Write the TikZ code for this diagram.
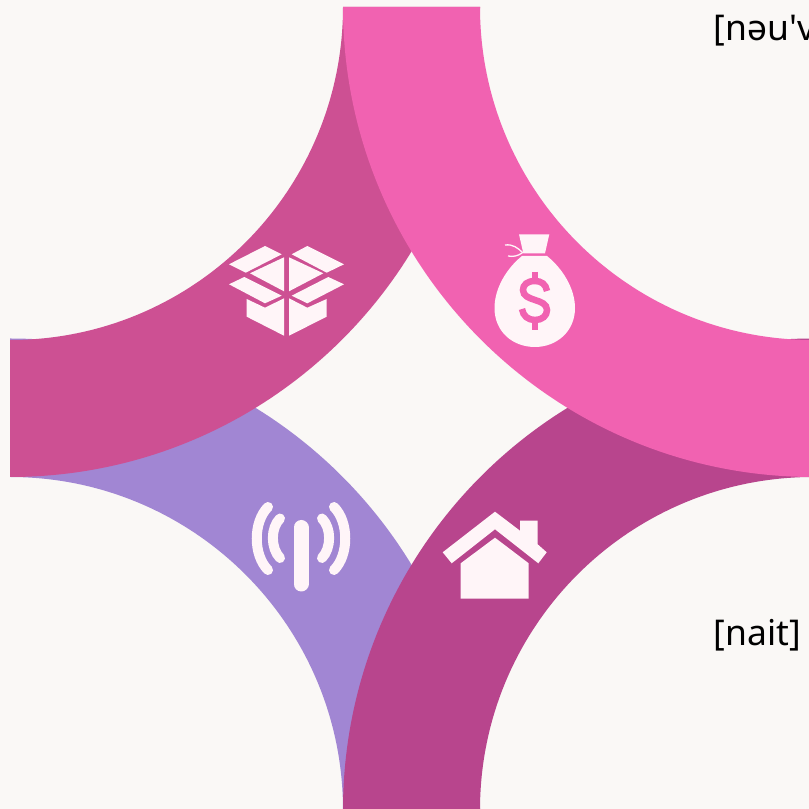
\documentclass[tikz,border=0pt]{standalone}
\usepackage{fontspec}
\newfontfamily\wordfont{Noto Sans}
\definecolor{paper}{HTML}{FAF8F6}
\definecolor{ringtl}{HTML}{CD5093}
\definecolor{ringtr}{HTML}{F162B1}
\definecolor{ringbl}{HTML}{A186D3}
\definecolor{ringbr}{HTML}{B8458D}
\definecolor{iconfill}{HTML}{FFF5F8}
\tikzset{
    icon/.style={fill=iconfill},
    iconline/.style={draw=iconfill, line width=10pt, line cap=round},
    word/.style={anchor=base west, inner sep=0pt, font=\wordfont\fontsize{35.5}{42}\selectfont}
}

\begin{document}
\begin{tikzpicture}[x=1pt,y=1pt]
    \useasboundingbox (0,0) rectangle (809,809);
    \clip (0,0) rectangle (809,809);
    \fill[paper] (0,0) rectangle (809,809);
    % rings, lowest first
    \fill[ringbl] (10,332) arc[start angle=90, end angle=0, radius=333] -- (480,-1) arc[start angle=0, end angle=90, x radius=470, y radius=471.5] -- cycle;
    \fill[ringtl] (343,802) arc[start angle=0, end angle=-90, radius=333] -- (10,332) arc[start angle=-90, end angle=0, radius=470] -- cycle;
    \fill[ringbr] (480,-1) arc[start angle=180, end angle=90, radius=333] -- (813,470.5) arc[start angle=90, end angle=180, x radius=470, y radius=471.5] -- cycle;
    \fill[ringtr] (480,802) arc[start angle=180, end angle=270, radius=333] -- (813,332) arc[start angle=270, end angle=180, radius=470] -- cycle;
    % words
    \node[word] (wordnov) at (713.5,768) {[nəu'v};
    \node[word] (wordnight) at (713.5,163) {[nait]};
    % icons, y runs downwards in here
    \begin{scope}[shift={(0,809)},yscale=-1]
        % box
        \fill[icon] (229,264.3) -- (265,246) -- (281.7,254.3) -- (245.7,272.7) -- cycle;
        \fill[icon] (291.7,254.3) -- (307.3,246) -- (344,264.3) -- (326.7,272.7) -- cycle;
        \fill[icon] (250,273.3) -- (284,257.3) -- (284,291.3) -- cycle;
        \fill[icon] (289,257.3) -- (323.3,273.3) -- (289,291.3) -- cycle;
        \fill[icon] (229,284.3) -- (244.3,277) -- (281.7,295.7) -- (265,303.3) -- cycle;
        \fill[icon] (291.7,295.7) -- (328.3,277) -- (344,284.3) -- (307.3,303.3) -- cycle;
        \fill[icon] (246.7,299) -- (265,307.7) -- (284,298.3) -- (284,335.7) -- (246.7,316.7) -- cycle;
        \fill[icon] (289,298.3) -- (307.3,307.7) -- (326.7,299) -- (326.7,316.7) -- (289,335.7) -- cycle;
        % money bag
        \fill[icon] (519,234.3) -- (549.3,234.3) -- (545,253.3) -- (523.3,253.3) -- cycle;
        \fill[icon] (522,256) -- (547,256) .. controls (562,268) and (575,288) .. (575,308) .. controls (575,332) and (556,347) .. (535,347) .. controls (513,347) and (494.5,332) .. (494.5,308) .. controls (494.5,288) and (507,268) .. (522,256) -- cycle;
        \draw[draw=iconfill, line width=1.3pt] (505,245) .. controls (513,244) and (518,248) .. (523,253);
        \draw[draw=iconfill, line width=1.3pt] (508,256) .. controls (513,257) and (518,256) .. (522,253);
        \draw[draw=ringtr, line width=6.5pt] (547,291) .. controls (546,284) and (541,281) .. (535,281) .. controls (527,281) and (523,285) .. (523,290) .. controls (523,296) and (529,298) .. (535,300) .. controls (541,302) and (547,304) .. (547,310) .. controls (547,316) and (542,320) .. (535,320) .. controls (528,320) and (523,316) .. (522,309);
        \draw[draw=ringtr, line width=6.5pt] (535,272) -- (535,281);
        \draw[draw=ringtr, line width=6.5pt] (535,320) -- (535,330);
        % antenna
        \draw[iconline, line width=15pt] (301,527.5) -- (301,584);
        \draw[iconline] (268,507) .. controls (253,522) and (253,555) .. (268,570);
        \draw[iconline] (280,518.5) .. controls (270.5,528) and (270.5,548) .. (280,558);
        \draw[iconline] (334,507) .. controls (349,522) and (349,555) .. (334,570);
        \draw[iconline] (322,518.5) .. controls (331.5,528) and (331.5,548) .. (322,558);
        % house
        \fill[icon] (495,511.7) -- (520,530.7) -- (520,520.7) -- (537.7,520.7) -- (537.7,544.3) -- (546.7,552.3) -- (538.3,563.3) -- (495,529.3) -- (451.7,563.3) -- (442.7,552.3) -- cycle;
        \fill[icon] (495,537.7) -- (528.7,563.3) -- (528.7,598.7) -- (460.7,598.7) -- (460.7,563.3) -- cycle;
    \end{scope}
\end{tikzpicture}
\end{document}
